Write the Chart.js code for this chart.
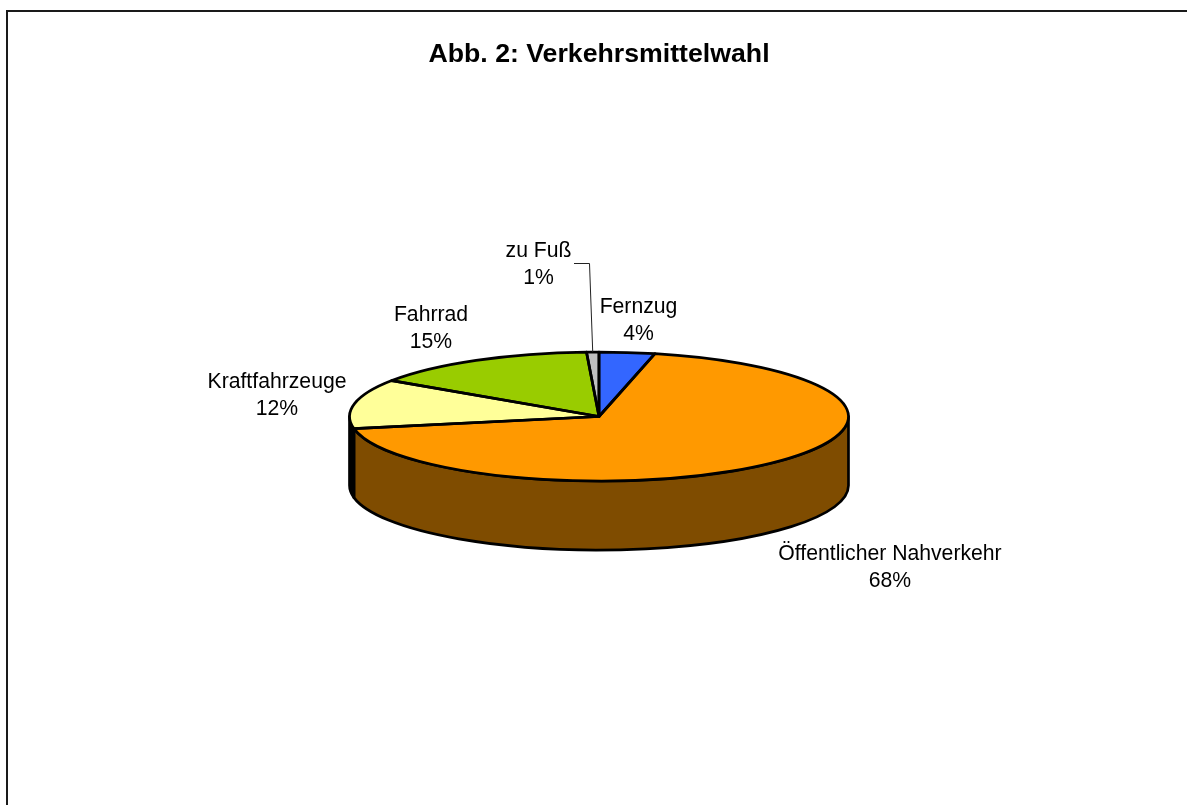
<!DOCTYPE html>
<html lang="de">
<head>
<meta charset="utf-8">
<title>Abb. 2: Verkehrsmittelwahl</title>
<style>html,body{margin:0;padding:0;background:#fff;overflow:hidden}canvas{display:block}</style>
<script src="https://cdn.jsdelivr.net/npm/chart.js@4"></script>
</head>
<body>
<canvas id="c" width="1187" height="805"></canvas>
<script>
const titleText = 'Abb. 2: Verkehrsmittelwahl';
const categories = ['Fernzug', 'Öffentlicher Nahverkehr', 'Kraftfahrzeuge', 'Fahrrad', 'zu Fuß'];
const shares = [3.6, 68.4, 12.4, 14.8, 0.8];
const sliceColors = ['#3366FF', '#FF9900', '#FFFF99', '#99CC00', '#C0C0C0'];
const wallColors = ['#1A3380', '#7F4C00', '#000000', '#4D6600', '#606060'];

const FONT = '"Liberation Sans", Arial, sans-serif';
const labelSize = 21.2, labelLine = 27;
const labelCenters = [[638.5, 307], [890, 554], [277, 382], [431, 315], [538.5, 251]];
const tilt = 0.2585, depth = 69, edge = 2.7;

const pie3d = {
  id: 'pie3d',
  beforeDraw(chart) {
    const ctx = chart.ctx;
    ctx.save();
    ctx.fillStyle = '#fff';
    ctx.fillRect(0, 0, chart.width, chart.height);
    ctx.fillStyle = '#1a1a1a';
    ctx.fillRect(6, 10, 2, chart.height - 10);
    ctx.fillRect(6, 10, chart.width - 6, 2);
    ctx.restore();
  },
  beforeDatasetsDraw(chart) {
    const ctx = chart.ctx;
    const arcs = chart.getDatasetMeta(0).data;
    const tau = Math.PI * 2;
    ctx.save();
    ctx.lineWidth = edge;
    ctx.strokeStyle = '#000';
    ctx.lineJoin = 'round';
    arcs.forEach((a, i) => {
      const s = a.startAngle, e = a.endAngle;
      // visible outer wall: the lower half of the ellipse, angles 0..PI
      [[s, e], [s - tau, e - tau], [s + tau, e + tau]].forEach(([rs, re]) => {
        const lo = Math.max(rs, 0), hi = Math.min(re, Math.PI);
        if (hi <= lo) return;
        ctx.beginPath();
        ctx.ellipse(a.x, a.y, a.outerRadius, a.outerRadius * tilt, 0, lo, hi, false);
        ctx.ellipse(a.x, a.y + depth, a.outerRadius, a.outerRadius * tilt, 0, hi, lo, true);
        ctx.closePath();
        ctx.fillStyle = wallColors[i];
        ctx.fill();
        ctx.stroke();
      });
    });
    ctx.restore();
    // the library's slices are drawn squashed into the tilted ellipse
    const a0 = arcs[0];
    ctx.save();
    ctx.translate(a0.x, a0.y);
    ctx.scale(1, tilt);
    ctx.translate(-a0.x, -a0.y);
  },
  afterDatasetsDraw(chart) {
    const ctx = chart.ctx;
    ctx.restore();
    const arcs = chart.getDatasetMeta(0).data;
    ctx.save();
    ctx.strokeStyle = '#000';
    ctx.lineWidth = edge;
    ctx.lineJoin = 'round';
    arcs.forEach(a => {
      ctx.beginPath();
      ctx.moveTo(a.x, a.y);
      ctx.ellipse(a.x, a.y, a.outerRadius, a.outerRadius * tilt, 0, a.startAngle, a.endAngle, false);
      ctx.closePath();
      ctx.stroke();
    });
    // leader line of the smallest slice
    const a = arcs[categories.indexOf('zu Fuß')];
    const mid = (a.startAngle + a.endAngle) / 2;
    const ex = a.x + Math.cos(mid) * a.outerRadius;
    const ey = a.y + Math.sin(mid) * a.outerRadius * tilt;
    ctx.lineWidth = 1;
    ctx.strokeStyle = '#222';
    ctx.beginPath();
    ctx.moveTo(574, 263.5);
    ctx.lineTo(589.5, 263.5);
    ctx.lineTo(ex, ey);
    ctx.stroke();
    // category and percent labels
    ctx.fillStyle = '#000';
    ctx.font = `${labelSize}px ${FONT}`;
    ctx.textAlign = 'center';
    ctx.textBaseline = 'middle';
    categories.forEach((name, k) => {
      const [x, y] = labelCenters[k];
      ctx.fillText(name, x, y);
      ctx.fillText(Math.round(shares[k]) + '%', x, y + labelLine);
    });
    ctx.restore();
  }
};

new Chart(document.getElementById('c'), {
  type: 'pie',
  data: {
    labels: categories,
    datasets: [{
      data: shares,
      backgroundColor: sliceColors,
      borderWidth: 0,
      clip: false
    }]
  },
  options: {
    responsive: false,
    animation: false,
    events: [],
    layout: { padding: { left: 349.5, right: 338.5, top: 39, bottom: 139 } },
    plugins: {
      legend: { display: false },
      tooltip: { enabled: false },
      title: {
        display: true,
        text: titleText,
        color: '#000',
        font: { family: FONT, size: 26.7, weight: 'bold', lineHeight: 1.2 },
        padding: { top: 0, bottom: 96 }
      }
    }
  },
  plugins: [pie3d]
});
</script>
</body>
</html>
